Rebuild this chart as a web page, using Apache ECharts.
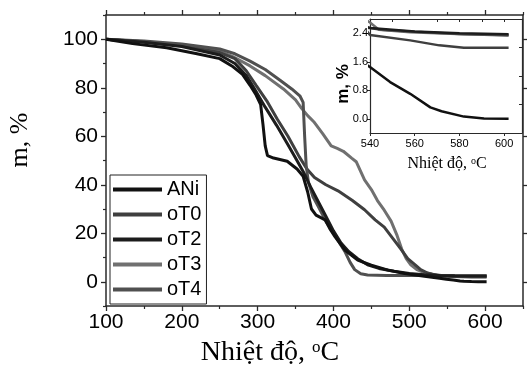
<!DOCTYPE html>
<html>
<head>
<meta charset="utf-8">
<script src="https://cdn.jsdelivr.net/npm/echarts@6/dist/echarts.min.js"></script>
<style>html,body{margin:0;padding:0;background:#fff}#c{width:528px;height:367px}</style>
</head>
<body>
<div id="c"></div>
<script>
// ---- data (temperature °C, mass %) ----
const seriesNames = ['ANi', 'oT0', 'oT2', 'oT3', 'oT4'];
const ANi = [[100,100],[135,98.2],[180,96.5],[220,94],[250,92],[266,89],[280,85.5],[290,81],[298,77],[304,73],[307,65],[310,56],[313,52],[321,51],[339,49.7],[352,46.5],[360,43.5],[366,37],[371,30],[377,27.5],[389,25.5],[395,22],[402,18.6],[415,13.1],[432,8.9],[450,6.8],[472,4.8],[494,3.4],[520,2.3],[540,1.45],[549,1.03],[558,0.7],[567,0.32],[572,0.21],[582,0.06],[591,0.01],[602,0]];
const oT0 = [[100,100],[150,99],[200,97.3],[250,94.5],[270,92],[285,87],[298,81],[312,74.6],[326,67],[340,60],[355,51.5],[365,46.5],[375,43],[390,40],[406,37.5],[425,33.5],[441,29.7],[455,25.5],[467,22.5],[478,18],[489,13.5],[498,9.5],[507,7.2],[515,5],[524,3.6],[540,2.35],[558,2.2],[571,2.06],[582,1.99],[602,1.99]];
const oT2 = [[100,100],[150,98.8],[200,97],[250,93.5],[270,90],[285,85],[295,80],[310,72],[325,64.5],[340,56.5],[350,51],[360,45.5],[370,39],[380,33],[390,27],[400,21],[410,16],[420,12.5],[432,9.5],[445,7],[460,5.5],[480,4.3],[500,3.4],[520,2.9],[540,2.55],[560,2.45],[580,2.4],[602,2.37]];
const oT3 = [[100,100],[150,99],[200,97.5],[250,95],[269,92.6],[290,89],[310,85],[334,79.5],[350,75],[358,71.5],[366,68.5],[374,66],[386,61],[397,56],[405,55],[413,53.8],[424,51],[430,49.5],[441,42],[450,38],[458,33.5],[467,29.5],[476,25],[484,19],[490,13.5],[496,9.5],[502,7],[510,5],[520,3.8],[530,3.1],[540,2.7],[544,2.5],[558,2.43],[582,2.37],[602,2.35]];
const oT4 = [[100,100],[150,99.3],[200,98],[250,96],[270,94],[290,91],[310,87.5],[330,83],[345,79.5],[356,76.5],[360,74],[362,60],[364,48],[367,41],[373,35],[380,31],[390,25],[398,21],[407,16.5],[415,12.5],[422,8],[428,5],[436,3.3],[445,2.8],[470,2.6],[500,2.55],[540,2.55],[545,2.5],[560,2.44],[580,2.38],[602,2.34]];
const seriesColors = ['#111111', '#3f3f3f', '#1c1c1c', '#707070', '#505050'];

const xMajor = [100, 200, 300, 400, 500, 600];
const xMinor = [150, 250, 350, 450, 550, 650];
const yMajor = [0, 20, 40, 60, 80, 100];
const yMinor = [-10, 10, 30, 50, 70, 90, 110];
const insetXTicks = [540, 560, 580, 600];
const insetXTop = [550, 570, 580, 590, 600];
const insetYTicks = [0, 0.8, 1.6, 2.4];
const insetYMinor = [0.4, 1.2, 2.0];

const allData = [ANi, oT0, oT2, oT3, oT4];
const axisColor = '#2a2a2a';
const font = 'Liberation Sans';

function ax(opts) {
  const base = {
    type: 'value', splitLine: {show: false},
    axisLine: {show: false, onZero: false, lineStyle: {color: axisColor, width: 1.5}},
    axisLabel: {show: false}, axisTick: {show: false}
  };
  const o = Object.assign(base, opts);
  o.axisLine = Object.assign({onZero: false}, o.axisLine);
  return o;
}

const chart = echarts.init(document.getElementById('c'), null, {renderer: 'canvas'});

const xAxes = [
  ax({gridIndex: 0, position: 'bottom', min: 100, max: 650, interval: 100,
    axisLine: {show: true, onZero: false, lineStyle: {color: axisColor, width: 1.5}},
    axisTick: {show: true, length: 5, customValues: xMajor, lineStyle: {color: axisColor, width: 1.3}},
    axisLabel: {show: true, customValues: xMajor, margin: 6, color: '#000', fontSize: 21, fontFamily: font}}),
  ax({gridIndex: 0, position: 'bottom', min: 100, max: 650, interval: 100,
    axisLine: {show: false, onZero: false},
    axisTick: {show: true, length: 3, customValues: xMinor, lineStyle: {color: axisColor, width: 1.2}}}),
  ax({gridIndex: 0, position: 'top', min: 100, max: 650, interval: 100,
    axisLine: {show: true, onZero: false, lineStyle: {color: axisColor, width: 1.5}},
    axisTick: {show: true, length: 5, customValues: xMajor, lineStyle: {color: axisColor, width: 1.3}}}),
  ax({gridIndex: 0, position: 'top', min: 100, max: 650, interval: 100,
    axisLine: {show: false, onZero: false},
    axisTick: {show: true, length: 3, customValues: xMinor, lineStyle: {color: axisColor, width: 1.2}}}),
  ax({gridIndex: 1, position: 'bottom', min: 540, max: 608, interval: 20,
    axisLine: {show: true, onZero: false, lineStyle: {color: axisColor, width: 1.2}},
    axisTick: {show: true, length: 3, customValues: insetXTicks, lineStyle: {color: axisColor, width: 1}},
    axisLabel: {show: true, customValues: insetXTicks, margin: 5, color: '#000', fontSize: 11, fontFamily: font}}),
  ax({gridIndex: 1, position: 'top', min: 540, max: 608, interval: 20,
    axisLine: {show: true, onZero: false, lineStyle: {color: axisColor, width: 1.2}},
    axisTick: {show: true, inside: true, length: 3, customValues: insetXTop, lineStyle: {color: axisColor, width: 1}}})
];

const yAxes = [
  ax({gridIndex: 0, position: 'left', min: -10, max: 110, interval: 10,
    axisLine: {show: true, onZero: false, lineStyle: {color: axisColor, width: 1.5}},
    axisTick: {show: true, length: 5, customValues: yMajor, lineStyle: {color: axisColor, width: 1.3}},
    axisLabel: {show: true, customValues: yMajor, margin: 8, color: '#000', fontSize: 21, fontFamily: font}}),
  ax({gridIndex: 0, position: 'left', min: -10, max: 110, interval: 10,
    axisLine: {show: false, onZero: false},
    axisTick: {show: true, length: 3, customValues: yMinor, lineStyle: {color: axisColor, width: 1.2}}}),
  ax({gridIndex: 0, position: 'right', min: -10, max: 110, interval: 10,
    axisLine: {show: true, onZero: false, lineStyle: {color: axisColor, width: 1.5}},
    axisTick: {show: true, length: 4, customValues: yMajor, lineStyle: {color: axisColor, width: 1.3}}}),
  ax({gridIndex: 1, position: 'left', min: -0.4, max: 2.8, interval: 0.4,
    axisLine: {show: true, onZero: false, lineStyle: {color: axisColor, width: 1.2}},
    axisTick: {show: true, length: 3, customValues: insetYTicks, lineStyle: {color: axisColor, width: 1}},
    axisLabel: {show: true, customValues: insetYTicks, margin: 2, color: '#000', fontSize: 11, fontFamily: font,
      formatter: v => Number(v).toFixed(1)}}),
  ax({gridIndex: 1, position: 'right', min: -0.4, max: 2.8, interval: 0.4,
    axisLine: {show: true, onZero: false, lineStyle: {color: axisColor, width: 1.2}},
    axisTick: {show: true, inside: true, length: 3, customValues: insetYMinor, lineStyle: {color: axisColor, width: 1}}})
];

const series = [];
const drawOrder = [3, 1, 4, 2, 0];
drawOrder.forEach(i => {
  series.push({
    name: seriesNames[i], type: 'line', xAxisIndex: 0, yAxisIndex: 0,
    data: allData[i], symbol: 'none', showSymbol: false, clip: true,
    lineStyle: {color: seriesColors[i], width: 3}, itemStyle: {color: seriesColors[i]}
  });
});
drawOrder.forEach(i => {
  series.push({
    name: seriesNames[i], type: 'line', xAxisIndex: 4, yAxisIndex: 3,
    data: allData[i], symbol: 'none', showSymbol: false, clip: true,
    lineStyle: {color: seriesColors[i], width: 2.5}, itemStyle: {color: seriesColors[i]}
  });
});

chart.setOption({
  animation: false,
  backgroundColor: '#fff',
  grid: [
    {left: 106, right: 5, top: 15, bottom: 61, containLabel: false},
    {left: 370, right: 6, top: 19, bottom: 234, containLabel: false, show: true, backgroundColor: '#fff', borderWidth: 0}
  ],
  xAxis: xAxes,
  yAxis: yAxes,
  legend: {
    data: seriesNames.map(n => ({name: n, icon: 'rect'})),
    orient: 'vertical', left: 110, top: 175,
    itemWidth: 49, itemHeight: 4, itemGap: 0,
    padding: [2, 5, 2, 3],
    borderColor: '#222', borderWidth: 1,
    selectedMode: false,
    textStyle: {fontSize: 20, fontFamily: font, color: '#000', lineHeight: 25}
  },
  graphic: [
    {type: 'text', x: 270, y: 353, style: {
      text: 'Nhiệt độ, {s|o}C', font: '28px "Liberation Serif"', fill: '#000',
      align: 'center', verticalAlign: 'middle',
      rich: {s: {fontSize: 17, fontFamily: 'Liberation Serif', verticalAlign: 'top', lineHeight: 28}}}},
    {type: 'text', x: 20, y: 140, rotation: Math.PI / 2, style: {
      text: 'm, %', font: '26px "Liberation Serif"', fill: '#000', align: 'center', verticalAlign: 'middle'}},
    {type: 'text', x: 447, y: 164, style: {
      text: 'Nhiệt độ, {s|o}C', font: '16px "Liberation Serif"', fill: '#000',
      align: 'center', verticalAlign: 'middle',
      rich: {s: {fontSize: 10, fontFamily: 'Liberation Serif', verticalAlign: 'top', lineHeight: 16}}}},
    {type: 'text', x: 343, y: 84, rotation: Math.PI / 2, style: {
      text: 'm, %', font: 'bold 17px "Liberation Sans"', fill: '#000', align: 'center', verticalAlign: 'middle'}}
  ],
  series: series
});
</script>
</body>
</html>
